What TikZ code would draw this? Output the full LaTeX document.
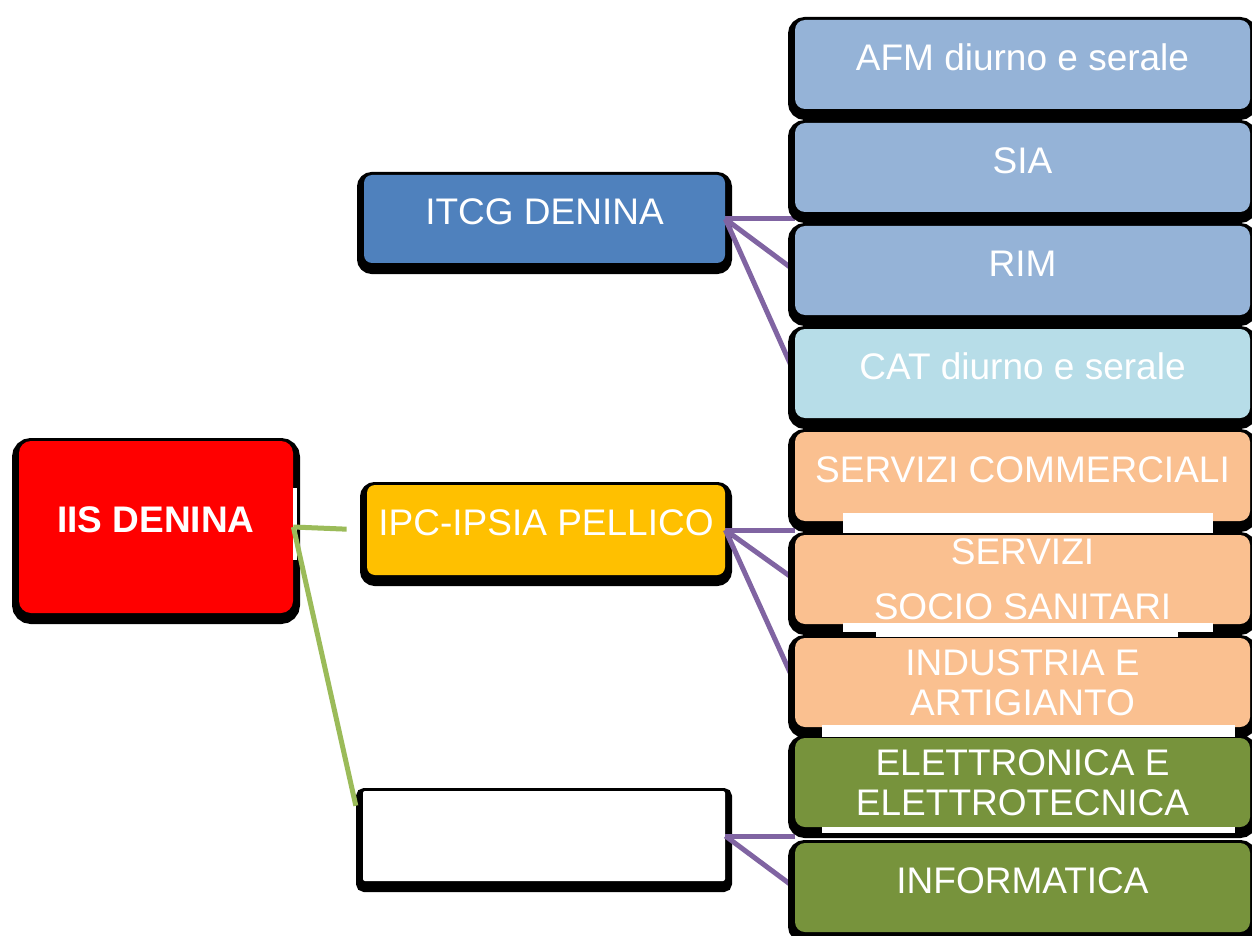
\documentclass[tikz,border=0pt]{standalone}
\usepackage{fontspec}
\setmainfont{Liberation Sans}
\usetikzlibrary{calc}
\definecolor{rootred}{HTML}{FF0000}
\definecolor{itcgblue}{HTML}{4F81BD}
\definecolor{ipcgold}{HTML}{FFC000}
\definecolor{afmblue}{HTML}{95B3D7}
\definecolor{catblue}{HTML}{B7DDE8}
\definecolor{peach}{HTML}{FAC090}
\definecolor{olive}{HTML}{77933C}
\definecolor{linkpurple}{HTML}{8064A2}
\definecolor{linkgreen}{HTML}{9BBB59}
\pgfdeclarelayer{front}
\pgfsetlayers{main,front}
\tikzset{
  schoolbox/.style={rectangle, rounded corners=4pt, inner sep=0pt, align=center, text=white,
    font=\fontsize{18.5}{20}\selectfont,
    preaction={draw=black, fill=black, line width=7pt, transform canvas={yshift=-2pt}}},
  kidbox/.style={schoolbox, rounded corners=5pt, minimum width=227.5pt, minimum height=44.5pt},
  lifted/.style={text depth=7pt},
  edgegreen/.style={line width=2.5pt, linkgreen},
  edgepurple/.style={line width=2.5pt, linkpurple},
  gapstrip/.style={fill=white}
}

\begin{document}
\begin{tikzpicture}[x=0.5pt, y=-0.5pt]
    \useasboundingbox (0,0) rectangle (1252,936);
    \node[schoolbox, rounded corners=6pt, fill=rootred, lifted, minimum width=137pt, minimum height=86pt,
      font=\fontsize{18.5}{20}\selectfont\bfseries] (root) at (156,527) {IIS DENINA};
    \fill[gapstrip] (293,488) rectangle (297,560);
    % ---------------------
    \node[schoolbox, fill=itcgblue, lifted, minimum width=180.5pt, minimum height=44pt] (itcg) at (544.5,219) {ITCG DENINA};
    \node[schoolbox, fill=ipcgold, lifted, minimum width=179pt, minimum height=45pt] (ipc) at (546,530) {IPC-IPSIA PELLICO};
    \node[schoolbox, rounded corners=1pt, fill=white, minimum width=181pt, minimum height=45pt] (blank) at (544,836) {};
    % ---------------------
    \begin{pgfonlayer}{front}
    \coordinate (D) at (0,103);
    \draw[every node/.style=kidbox]
    (1022.5,64.5) node[fill=afmblue, lifted] (afm) {AFM diurno e serale}
    ++(D) node[fill=afmblue, lifted] (sia) {SIA}
    ++(D) node[fill=afmblue, lifted] (rim) {RIM}
    ++(D) node[fill=catblue, lifted] (cat) {CAT diurno e serale}
    ++(D) node[fill=peach, lifted] (comm) {SERVIZI COMMERCIALI}
    ++(D) node[fill=peach] (socio) {SERVIZI\\[7.5pt]SOCIO SANITARI}
    ++(D) node[fill=peach] (indus) {INDUSTRIA E\\ARTIGIANTO}
    ++(0,100) node[fill=olive] (elet) {ELETTRONICA E\\ELETTROTECNICA}
    ++(0,105) node[fill=olive, lifted] (info) {INFORMATICA};
    % ---------------------
    \fill[gapstrip] (843,513) rectangle (1213,533);
    \fill[gapstrip] (843,623) rectangle (1213,632);
    \fill[gapstrip] (876,623) rectangle (1178,637);
    \fill[gapstrip] (822,725) rectangle (1235,737);
    \fill[gapstrip] (822,827) rectangle (1235,833);
    \end{pgfonlayer}
    % ---------------------
    \draw
    (root.east)
    edge[edgegreen, shorten >=10pt] (ipc.west)
    edge[edgegreen, shorten >=15.5pt] (blank.west)
    (itcg.east)
    edge[edgepurple] (itcg.east -| sia.west)
    edge[edgepurple] (rim.west)
    edge[edgepurple] (cat.west)
    (ipc.east)
    edge[edgepurple] (ipc.east -| comm.west)
    edge[edgepurple] (socio.west)
    edge[edgepurple] (indus.west)
    (blank.east)
    edge[edgepurple] (blank.east -| elet.west)
    edge[edgepurple] (info.west);
\end{tikzpicture}
\end{document}
